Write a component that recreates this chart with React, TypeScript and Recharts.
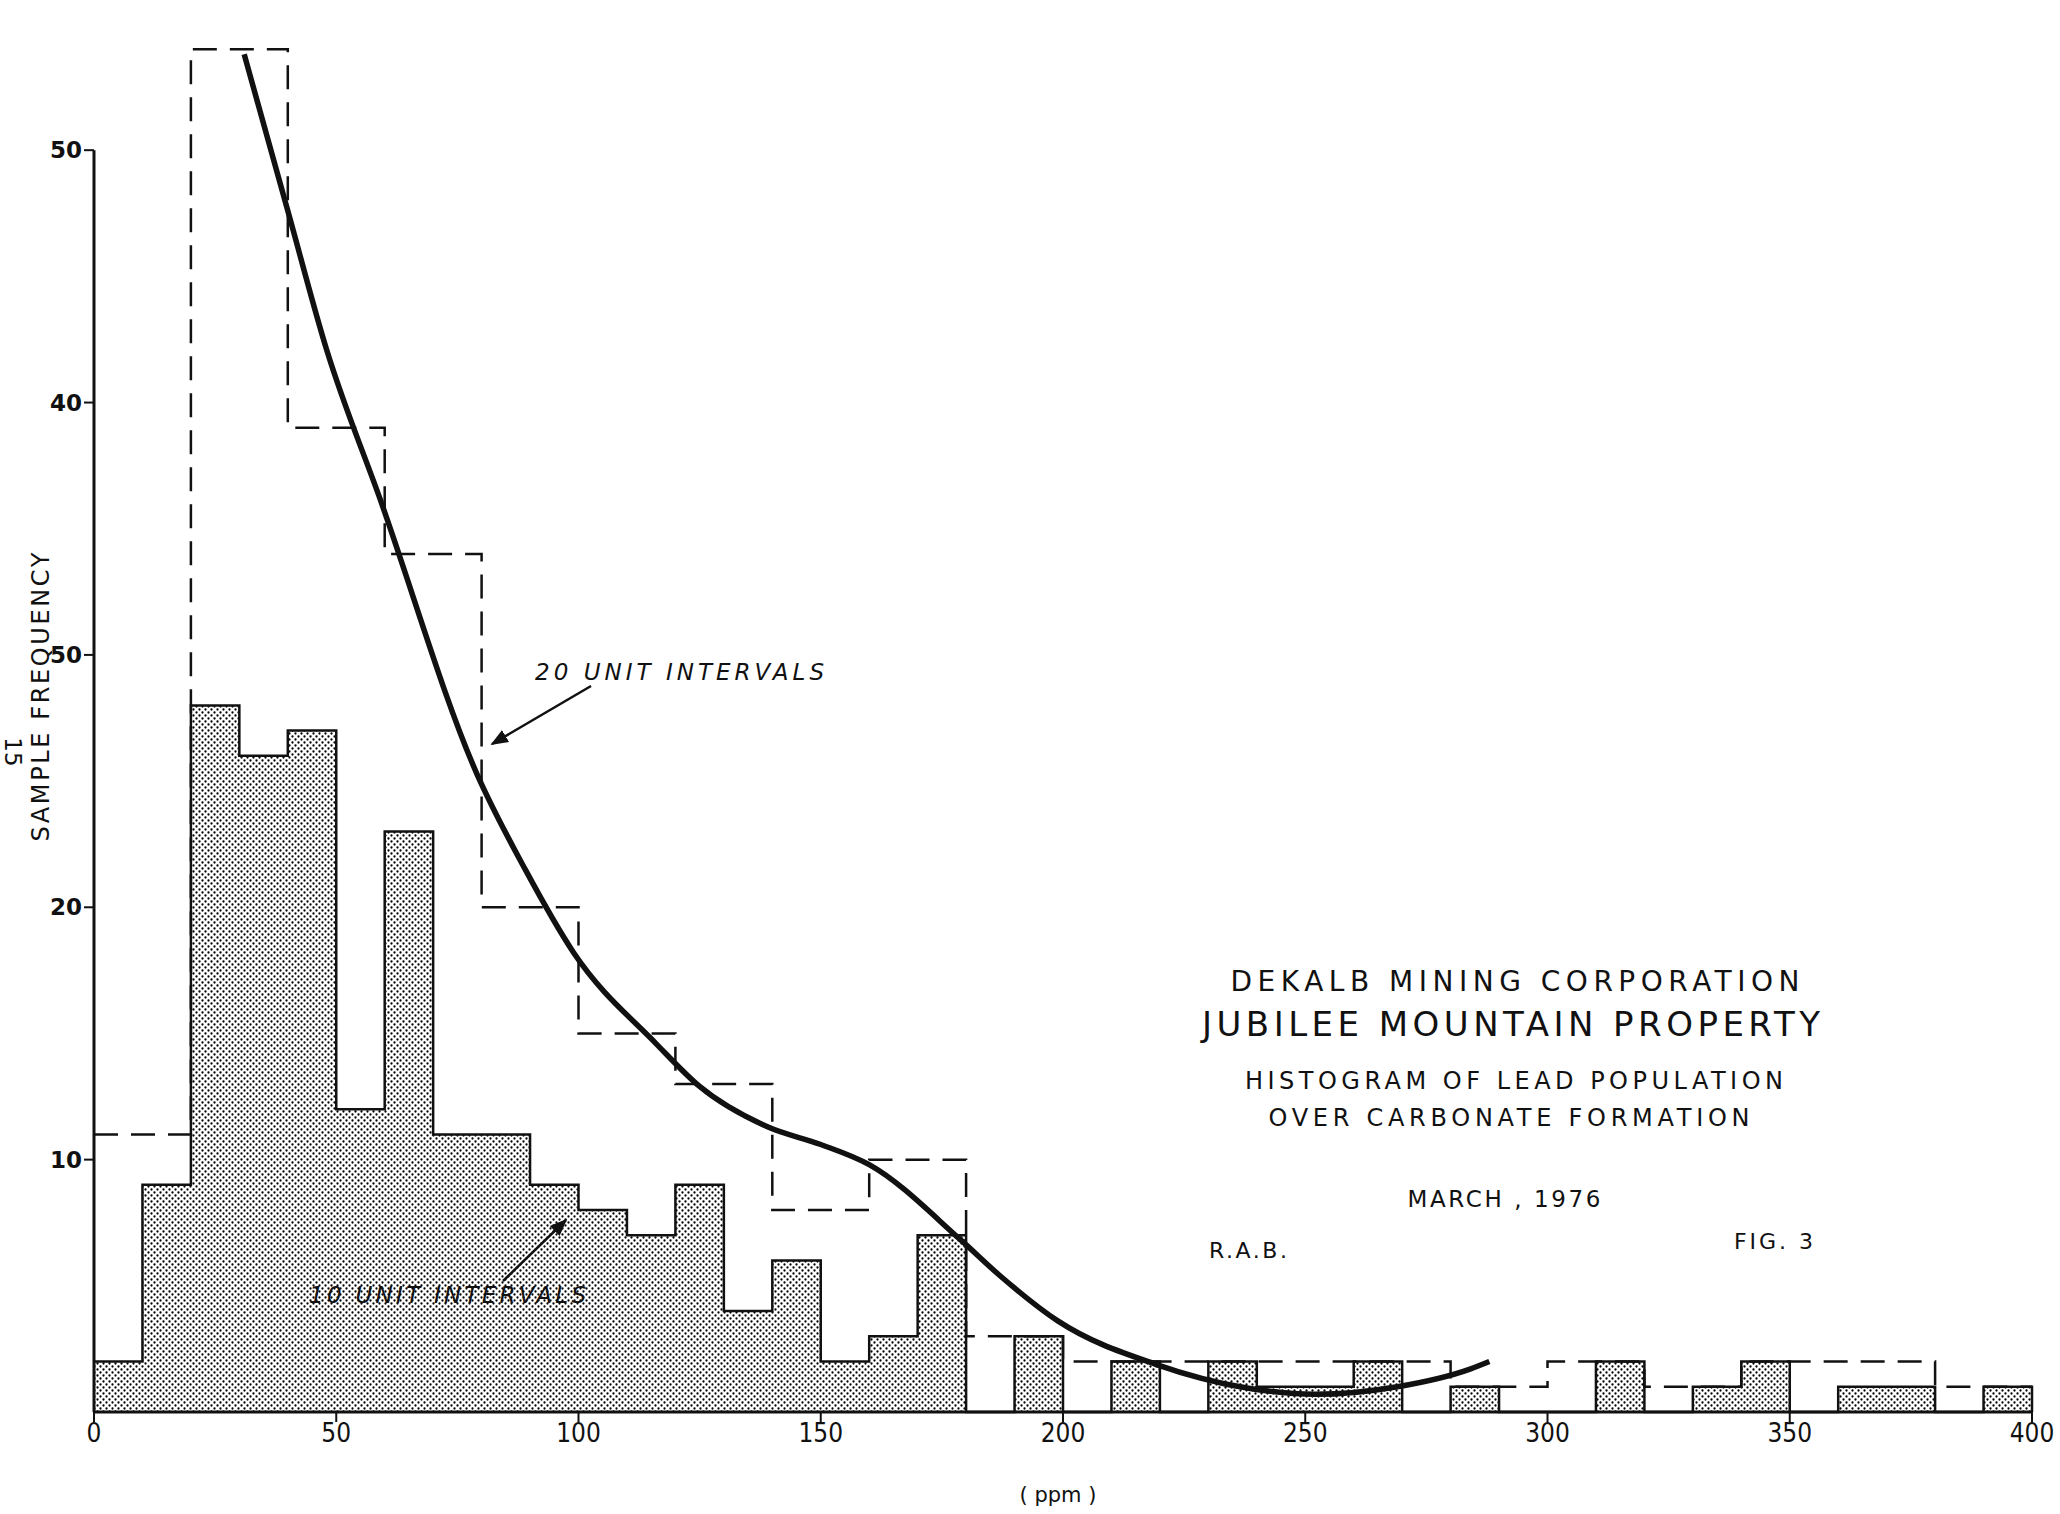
import React from 'react';
import {
  ComposedChart,
  Area,
  Line,
  XAxis,
  YAxis,
  ReferenceLine
} from 'recharts';

// 10 ppm classes (0-10, 10-20, ... 390-400), sample counts
const counts10 = [2, 9, 28, 26, 27, 12, 23, 11, 11, 9, 8, 7, 9, 4, 6, 2, 3, 7, 0, 3, 0, 2, 0, 2, 1, 1, 2, 0, 1, 0, 0, 2, 0, 1, 2, 0, 1, 1, 0, 1];
// 20 ppm classes (0-20, 20-40, ... 380-400)
const counts20 = [11, 54, 39, 34, 20, 15, 13, 8, 10, 3, 2, 2, 2, 2, 1, 2, 1, 2, 2, 1];

// smoothed frequency curve
const curvePpm = [31, 40, 48, 59, 79, 89, 99, 116, 125, 139, 150, 160, 179, 187, 199, 219, 238, 252, 269, 284, 288];
const curveFreq = [53.8, 47.6, 42.1, 36.2, 25.3, 21.5, 18.2, 14.6, 12.9, 11.3, 10.6, 9.8, 6.8, 5.4, 3.6, 1.9, 0.95, 0.7, 1.0, 1.7, 2.0];

const xTicks = [0, 50, 100, 150, 200, 250, 300, 350, 400];
const yTicks = [10, 20, 30, 40, 50];
const yTickLabels = ['10', '20', '50', '40', '50'];

const hist10 = [
  ...counts10.map((n, i) => ({ ppm: i * 10, freq10: n })),
  { ppm: 400, freq10: 0 }
];
const hist20 = [
  ...counts20.map((n, i) => ({ ppm: i * 20, freq20: n })),
  { ppm: 400, freq20: counts20[counts20.length - 1] }
];
const curve = curvePpm.map((p, i) => ({ ppm: p, freq: curveFreq[i] }));

const ink = '#111';
const letterFont = '"DejaVu Sans", "Noto Sans", sans-serif';

const App = () => {
  return (
    <div style={{ position: 'absolute', left: 0, top: 0, width: 2060, height: 1514, background: '#fff' }}>
      <ComposedChart
        width={2060}
        height={1514}
        data={hist10}
        margin={{ top: 24, right: 28, bottom: 62, left: 34 }}
      >
        <defs>
          <pattern id="stipple" width="6" height="6" patternUnits="userSpaceOnUse">
            <rect width="6" height="6" fill="#fff" />
            <circle cx="1.5" cy="1.5" r="1.15" fill="#000" />
            <circle cx="4.5" cy="4.5" r="1.15" fill="#000" />
          </pattern>
        </defs>
        <XAxis
          type="number"
          dataKey="ppm"
          domain={[0, 400]}
          ticks={xTicks}
          height={40}
          axisLine={{ stroke: ink, strokeWidth: 3 }}
          tickLine={{ stroke: ink, strokeWidth: 2 }}
          tickSize={10}
          tick={{ fill: ink, fontSize: 26, fontFamily: '"Liberation Sans Narrow", "DejaVu Sans Condensed", sans-serif' }}
        />
        <YAxis
          type="number"
          domain={[0, 55]}
          ticks={yTicks}
          width={60}
          axisLine={false}
          tickLine={{ stroke: ink, strokeWidth: 2 }}
          tickSize={10}
          tickFormatter={(v) => yTickLabels[yTicks.indexOf(v)]}
          tick={{ fill: ink, fontSize: 23, fontWeight: 'bold', fontFamily: letterFont }}
        />
        <ReferenceLine segment={[{ x: 0, y: 0 }, { x: 0, y: 50 }]} stroke={ink} strokeWidth={3} />
        <Area
          type="stepAfter"
          dataKey="freq10"
          stroke={ink}
          strokeWidth={2.5}
          fill="url(#stipple)"
          fillOpacity={1}
          dot={false}
          activeDot={false}
          isAnimationActive={false}
        />
        <Line
          data={hist20}
          type="stepAfter"
          dataKey="freq20"
          stroke={ink}
          strokeWidth={2.5}
          strokeDasharray="24 13"
          dot={false}
          activeDot={false}
          isAnimationActive={false}
        />
        <Line
          data={curve}
          type="monotone"
          dataKey="freq"
          stroke={ink}
          strokeWidth={5.5}
          dot={false}
          activeDot={false}
          isAnimationActive={false}
        />
      </ComposedChart>

      <svg
        width={2060}
        height={1514}
        style={{ position: 'absolute', left: 0, top: 0, pointerEvents: 'none' }}
      >
        <defs>
          <marker id="head" viewBox="0 0 10 10" refX="9" refY="5" markerWidth="7" markerHeight="7" orient="auto-start-reverse">
            <path d="M0,1 L10,5 L0,9 z" fill={ink} />
          </marker>
        </defs>

        <g fill={ink} fontFamily={letterFont}>
          <text x={41} y={697} transform="rotate(-90 41 697)" dy={8} textAnchor="middle" fontSize={24} textLength={289} lengthAdjust="spacing">
            SAMPLE  FREQUENCY
          </text>
          <text x={13} y={752} transform="rotate(90 13 752)" dy={8} textAnchor="middle" fontSize={23}>15</text>

          <text x={1515} y={991} textAnchor="middle" fontSize={28} textLength={569} lengthAdjust="spacing">DEKALB   MINING   CORPORATION</text>
          <text x={1511} y={1036} textAnchor="middle" fontSize={34} textLength={618} lengthAdjust="spacing">JUBILEE   MOUNTAIN   PROPERTY</text>
          <text x={1514} y={1089} textAnchor="middle" fontSize={24} textLength={538} lengthAdjust="spacing">HISTOGRAM   OF   LEAD   POPULATION</text>
          <text x={1509} y={1126} textAnchor="middle" fontSize={24} textLength={481} lengthAdjust="spacing">OVER   CARBONATE   FORMATION</text>
          <text x={1504} y={1207} textAnchor="middle" fontSize={23} textLength={193} lengthAdjust="spacing">MARCH , 1976</text>
          <text x={1209} y={1258} fontSize={22} textLength={78} lengthAdjust="spacing">R.A.B.</text>
          <text x={1734} y={1249} fontSize={22} textLength={79} lengthAdjust="spacing">FIG. 3</text>

          <text x={535} y={680} fontSize={23} fontStyle="italic" textLength={289} lengthAdjust="spacing">20 UNIT  INTERVALS</text>
          <text x={309} y={1303} fontSize={23} fontStyle="italic" textLength={277} lengthAdjust="spacing">10 UNIT  INTERVALS</text>

          <text x={1058} y={1502} textAnchor="middle" fontSize={21}>( ppm )</text>
        </g>

        <line x1={591} y1={686} x2={492} y2={744} stroke={ink} strokeWidth={2.5} markerEnd="url(#head)" />
        <line x1={503} y1={1281} x2={566} y2={1220} stroke={ink} strokeWidth={2.5} markerEnd="url(#head)" />
      </svg>
    </div>
  );
};

export default App;
